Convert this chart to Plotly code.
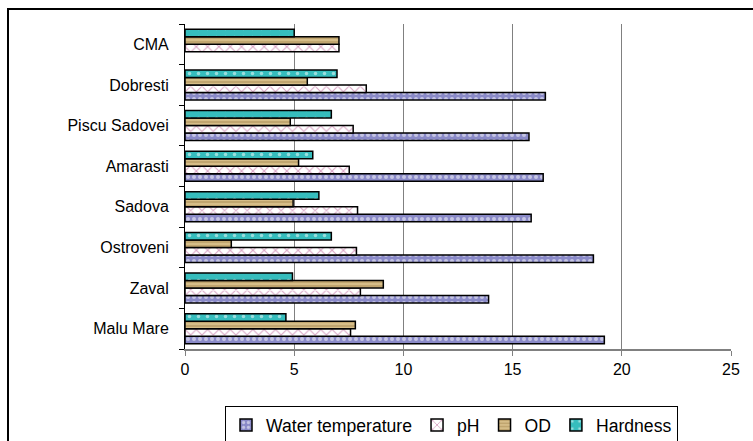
import plotly.graph_objects as go

categories = ["Malu Mare", "Zaval", "Ostroveni", "Sadova", "Amarasti",
              "Piscu Sadovei", "Dobresti", "CMA"]
water_temp = [19.2, 13.9, 18.7, 15.85, 16.4, 15.75, 16.5, None]
ph = [7.58, 8.03, 7.85, 7.9, 7.52, 7.7, 8.3, 7.05]
od = [7.8, 9.08, 2.12, 4.95, 5.2, 4.82, 5.6, 7.05]
hardness = [4.62, 4.92, 6.7, 6.13, 5.85, 6.7, 6.96, 5.0]
x_ticks = [0, 5, 10, 15, 20, 25]

FONT = "Liberation Sans, Arial, sans-serif"

series = [
    ("Water temperature", water_temp,
     dict(shape=".", bgcolor="#8a8ac8", fgcolor="#ffffff", size=6, solidity=0.35)),
    ("pH", ph,
     dict(shape="x", bgcolor="#ffffff", fgcolor="#b04585", size=8, solidity=0.25)),
    ("OD", od,
     dict(shape="-", bgcolor="#d6bd88", fgcolor="#97773f", size=4, solidity=0.35)),
    ("Hardness", hardness,
     dict(shape=".", bgcolor="#36bdbd", fgcolor="#ffffff", size=9, solidity=0.12)),
]

fig = go.Figure()
for name, vals, pat in series:
    fig.add_trace(go.Bar(
        y=categories, x=vals, name=name, orientation="h",
        marker=dict(color=pat["bgcolor"], pattern=pat,
                    line=dict(color="black", width=1.5)),
    ))

L, R, T, B = 185, 22, 24, 92
W, H = 753, 441
pw = W - L - R
ph_ = H - T - B

def px_x(px):
    return (px - L) / pw

def px_y(py):
    return (H - B - py) / ph_

fig.update_layout(
    width=W, height=H,
    margin=dict(l=L, r=R, t=T, b=B, pad=0, autoexpand=False),
    paper_bgcolor="white", plot_bgcolor="white",
    barmode="group", bargap=0.26, bargroupgap=0,
    font=dict(family=FONT, color="black", size=15),
    showlegend=True,
    legend=dict(
        orientation="h", x=px_x(225), y=px_y(406),
        xanchor="left", yanchor="top",
        bordercolor="black", borderwidth=1,
        font=dict(family=FONT, size=17.6, color="black"),
        traceorder="normal", itemwidth=30,
    ),
    xaxis=dict(
        range=[0, 25], tickvals=x_ticks, ticktext=[str(v) for v in x_ticks],
        showgrid=True, gridcolor="#808080", gridwidth=1,
        showline=True, linecolor="#808080", linewidth=1.5,
        ticks="outside", ticklen=5, tickcolor="#808080",
        tickfont=dict(family=FONT, size=16), zeroline=False,
        fixedrange=True,
    ),
    yaxis=dict(
        type="category", categoryorder="array", categoryarray=categories,
        showline=True, linecolor="black", linewidth=1,
        ticks="outside", ticklen=5, tickcolor="black", tickson="boundaries",
        tickfont=dict(family=FONT, size=16), showgrid=False,
        ticklabelstandoff=12, fixedrange=True,
    ),
    shapes=[
        dict(type="line", xref="paper", yref="paper",
             x0=px_x(7), x1=px_x(760), y0=px_y(9), y1=px_y(9),
             line=dict(color="black", width=2)),
        dict(type="line", xref="paper", yref="paper",
             x0=px_x(8), x1=px_x(8), y0=px_y(8), y1=px_y(450),
             line=dict(color="black", width=2)),
    ],
)

fig.write_html("out.html")
